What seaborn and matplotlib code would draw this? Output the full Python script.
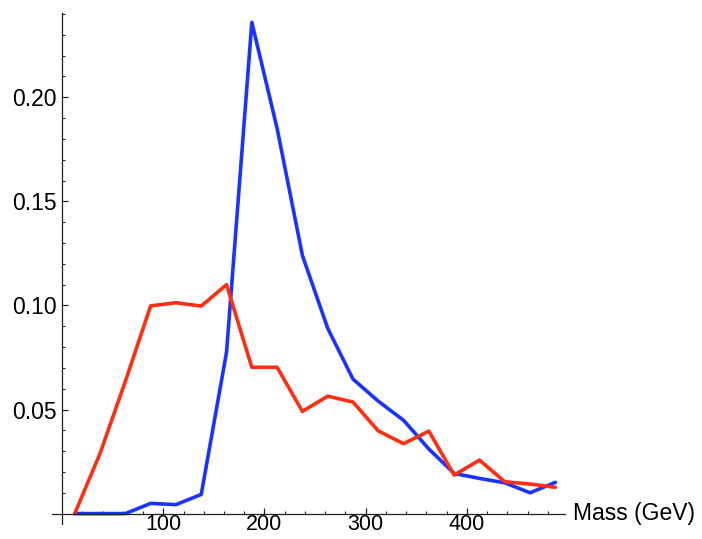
import matplotlib
matplotlib.use("Agg")
import matplotlib.pyplot as plt
import matplotlib.transforms as mtransforms
from matplotlib.ticker import FixedLocator
import pandas as pd
import seaborn as sns

# Bin centres of the mass histogram (GeV)
mass = [12.5, 37.5, 62.5, 87.5, 112.5, 137.5, 162.5, 187.5, 212.5, 237.5,
        262.5, 287.5, 312.5, 337.5, 362.5, 387.5, 412.5, 437.5, 462.5, 487.5]

# Normalised distributions
blue_vals = [0.0, 0.0, 0.0, 0.0049, 0.0043, 0.0092, 0.0775, 0.236, 0.185, 0.124,
             0.089, 0.0646, 0.054, 0.0448, 0.031, 0.0193, 0.0169, 0.0148, 0.010, 0.015]
red_vals = [0.0, 0.0289, 0.0635, 0.0998, 0.1013, 0.0997, 0.110, 0.0703, 0.0703, 0.0491,
            0.0564, 0.0536, 0.0397, 0.0336, 0.0396, 0.0185, 0.0257, 0.0153, 0.0142, 0.0126]

series_names = ["blue", "red"]
series_colors = {"blue": "#1a33ff", "red": "#ff2e12"}

x_ticks = [100, 200, 300, 400]
y_ticks = [0.05, 0.10, 0.15, 0.20]
y_tick_labels = ["0.05", "0.10", "0.15", "0.20"]
x_label = "Mass (GeV)"

df = pd.concat([
    pd.DataFrame({"mass": mass, "value": blue_vals, "series": "blue"}),
    pd.DataFrame({"mass": mass, "value": red_vals, "series": "red"}),
], ignore_index=True)

sns.set_theme(style="ticks")
plt.rcParams["font.family"] = ["Liberation Sans", "DejaVu Sans"]

W, H = 702, 539
fig = plt.figure(figsize=(W / 100, H / 100), dpi=100)

x_lo, x_hi = -10, 497
y_lo, y_hi = -0.005, 0.2405
left_px, right_px = 52, 565
top_px, bot_px = 13.0, 524.0
ax = fig.add_axes([left_px / W, (H - bot_px) / H,
                   (right_px - left_px) / W, (bot_px - top_px) / H])

sns.lineplot(data=df, x="mass", y="value", hue="series", hue_order=series_names,
             palette=series_colors, linewidth=2.6, legend=False, ax=ax,
             estimator=None, sort=False)

ax.set_xlim(x_lo, x_hi)
ax.set_ylim(y_lo, y_hi)

# Axes cross at the origin
for side in ["top", "right"]:
    ax.spines[side].set_visible(False)
ax.spines["left"].set_position(("data", 0))
ax.spines["bottom"].set_position(("data", 0))
for side in ["left", "bottom"]:
    ax.spines[side].set_linewidth(0.9)
    ax.spines[side].set_color("#222222")

ax.xaxis.set_major_locator(FixedLocator(x_ticks))
ax.xaxis.set_minor_locator(FixedLocator([v for v in range(20, 500, 20) if v % 100]))
ax.yaxis.set_major_locator(FixedLocator(y_ticks))
ax.yaxis.set_minor_locator(FixedLocator([round(v * 0.01, 2) for v in range(1, 25) if v % 5]))
ax.set_xticklabels([str(v) for v in x_ticks])
ax.set_yticklabels(y_tick_labels)

ax.tick_params(axis="both", which="major", direction="in", length=4.5, width=0.9,
               color="#222222", labelsize=16.5, labelcolor="black")
ax.tick_params(axis="both", which="minor", direction="in", length=2.5, width=0.8,
               color="#222222")
ax.tick_params(axis="x", which="major", pad=0.5, labelsize=15.5)
ax.tick_params(axis="y", which="major", pad=4)

ax.set_xlabel("")
ax.set_ylabel("")
label_tf = mtransforms.blended_transform_factory(ax.transAxes, ax.transData)
ax.text(1.015, 0.0, x_label, transform=label_tf,
        ha="left", va="center", fontsize=16.5, color="black", clip_on=False)

fig.savefig("out.png", dpi=100, facecolor="white")
